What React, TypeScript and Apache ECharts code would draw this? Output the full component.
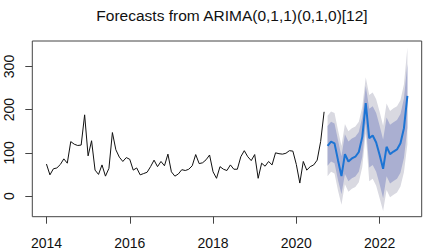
import React, { useEffect, useRef } from "react";
import * as echarts from "echarts";

const startYear = 2014;
const observed = [
  74, 49, 63, 65, 73, 86, 76, 126, 120, 117, 118, 188,
  93, 128, 60, 50, 72, 46, 64, 147, 107, 90, 80, 89,
  85, 60, 65, 49, 52, 55, 68, 83, 68, 80, 70, 97,
  56, 46, 51, 61, 59, 62, 70, 96, 75, 77, 84, 95,
  56, 41, 68, 62, 59, 72, 62, 62, 91, 105, 91, 82,
  96, 41, 76, 69, 80, 72, 100, 98, 97, 99, 105, 104,
  73, 30, 80, 60, 68, 72, 83, 126, 195,
];
const fcMean = [116, 126, 122, 83, 46, 97, 80, 87, 91, 102, 137, 215, 134, 140, 124, 95, 63, 114, 97, 103, 108, 122, 157, 232];
const fcLo95 = [46, 56, 52, 13, -20, 27, 10, 17, 21, 32, 67, 145, 34, 40, 24, -5, -35, 14, -3, 3, 8, 22, 55, 120];
const fcLo80 = [70, 80, 76, 37, 4, 51, 34, 41, 45, 56, 91, 169, 66, 72, 56, 27, -5, 46, 29, 35, 40, 54, 88, 158];
const fcHi80 = [162, 172, 168, 129, 92, 143, 126, 133, 137, 148, 183, 255, 202, 208, 192, 163, 131, 182, 165, 171, 176, 190, 226, 306];
const fcHi95 = [186, 196, 192, 153, 116, 167, 150, 157, 161, 172, 207, 275, 234, 240, 224, 195, 163, 214, 197, 203, 208, 222, 259, 344];
const xTicks = [2014, 2016, 2018, 2020, 2022];
const yTicks = [0, 100, 200, 300];

const FONT = "'Liberation Sans', Arial, sans-serif";

export default function App() {
  const ref = useRef<HTMLDivElement>(null);
  useEffect(() => {
    const chart = echarts.init(ref.current!, null, { renderer: "svg" });
    const obsData = observed.map((v, i) => [startYear + i / 12, v]);
    const fcStart = startYear + observed.length / 12;
    const fcX = fcMean.map((_, i) => fcStart + i / 12);
    const meanData = fcMean.map((v, i) => [fcX[i], v]);

    const bandPoly = (api: any, lo: number[], hi: number[]) => {
      const pts: number[][] = [];
      for (let i = 0; i < fcX.length; i++) pts.push(api.coord([fcX[i], hi[i]]));
      for (let i = fcX.length - 1; i >= 0; i--) pts.push(api.coord([fcX[i], lo[i]]));
      return pts;
    };

    chart.setOption({
      animation: false,
      title: {
        text: "Forecasts from ARIMA(0,1,1)(0,1,0)[12]",
        left: 227,
        top: 2,
        textAlign: "center",
        textStyle: { fontFamily: FONT, fontSize: 15.5, fontWeight: "normal", color: "#111" },
      },
      grid: {
        left: 32.3,
        right: 3.3,
        top: 41,
        bottom: 33.3,
        show: true,
        borderColor: "#444",
        borderWidth: 1,
        backgroundColor: "transparent",
      },
      xAxis: {
        type: "value",
        min: 2013.66,
        max: 2023.01,
        axisLine: { show: false, onZero: false },
        splitLine: { show: false },
        axisTick: { show: true, customValues: xTicks, length: 7, lineStyle: { color: "#444" } },
        axisLabel: {
          customValues: xTicks,
          margin: 19,
          fontSize: 14,
          fontFamily: FONT,
          color: "#111",
          formatter: (v: number) => String(Math.round(v)),
        },
      },
      yAxis: {
        type: "value",
        min: -47.95,
        max: 359.05,
        axisLine: { show: false, onZero: false },
        splitLine: { show: false },
        axisTick: { show: true, customValues: yTicks, length: 7, lineStyle: { color: "#444" } },
        axisLabel: {
          customValues: yTicks,
          rotate: 90,
          margin: 16,
          fontSize: 14,
          fontFamily: FONT,
          color: "#111",
          formatter: (v: number) => String(Math.round(v)),
        },
      },
      series: [
        {
          type: "custom",
          silent: true,
          data: [[fcX[0], fcMean[0]]],
          encode: { x: 0, y: 1 },
          clip: true,
          renderItem: (params: any, api: any) => ({
            type: "group",
            children: [
              {
                type: "polygon",
                shape: { points: bandPoly(api, fcLo95, fcHi95) },
                style: { fill: "#D9D9E1", stroke: "none" },
              },
              {
                type: "polygon",
                shape: { points: bandPoly(api, fcLo80, fcHi80) },
                style: { fill: "#AAAFD1", stroke: "none" },
              },
            ],
          }),
          z: 1,
        },
        {
          type: "line",
          data: obsData,
          showSymbol: false,
          lineStyle: { color: "#111", width: 1 },
          z: 3,
        },
        {
          type: "line",
          data: meanData,
          showSymbol: false,
          lineStyle: { color: "#1C74D4", width: 2 },
          z: 4,
        },
      ],
    });
    return () => chart.dispose();
  }, []);
  return <div ref={ref} style={{ position: "absolute", left: 0, top: 0, width: 425, height: 250 }} />;
}
